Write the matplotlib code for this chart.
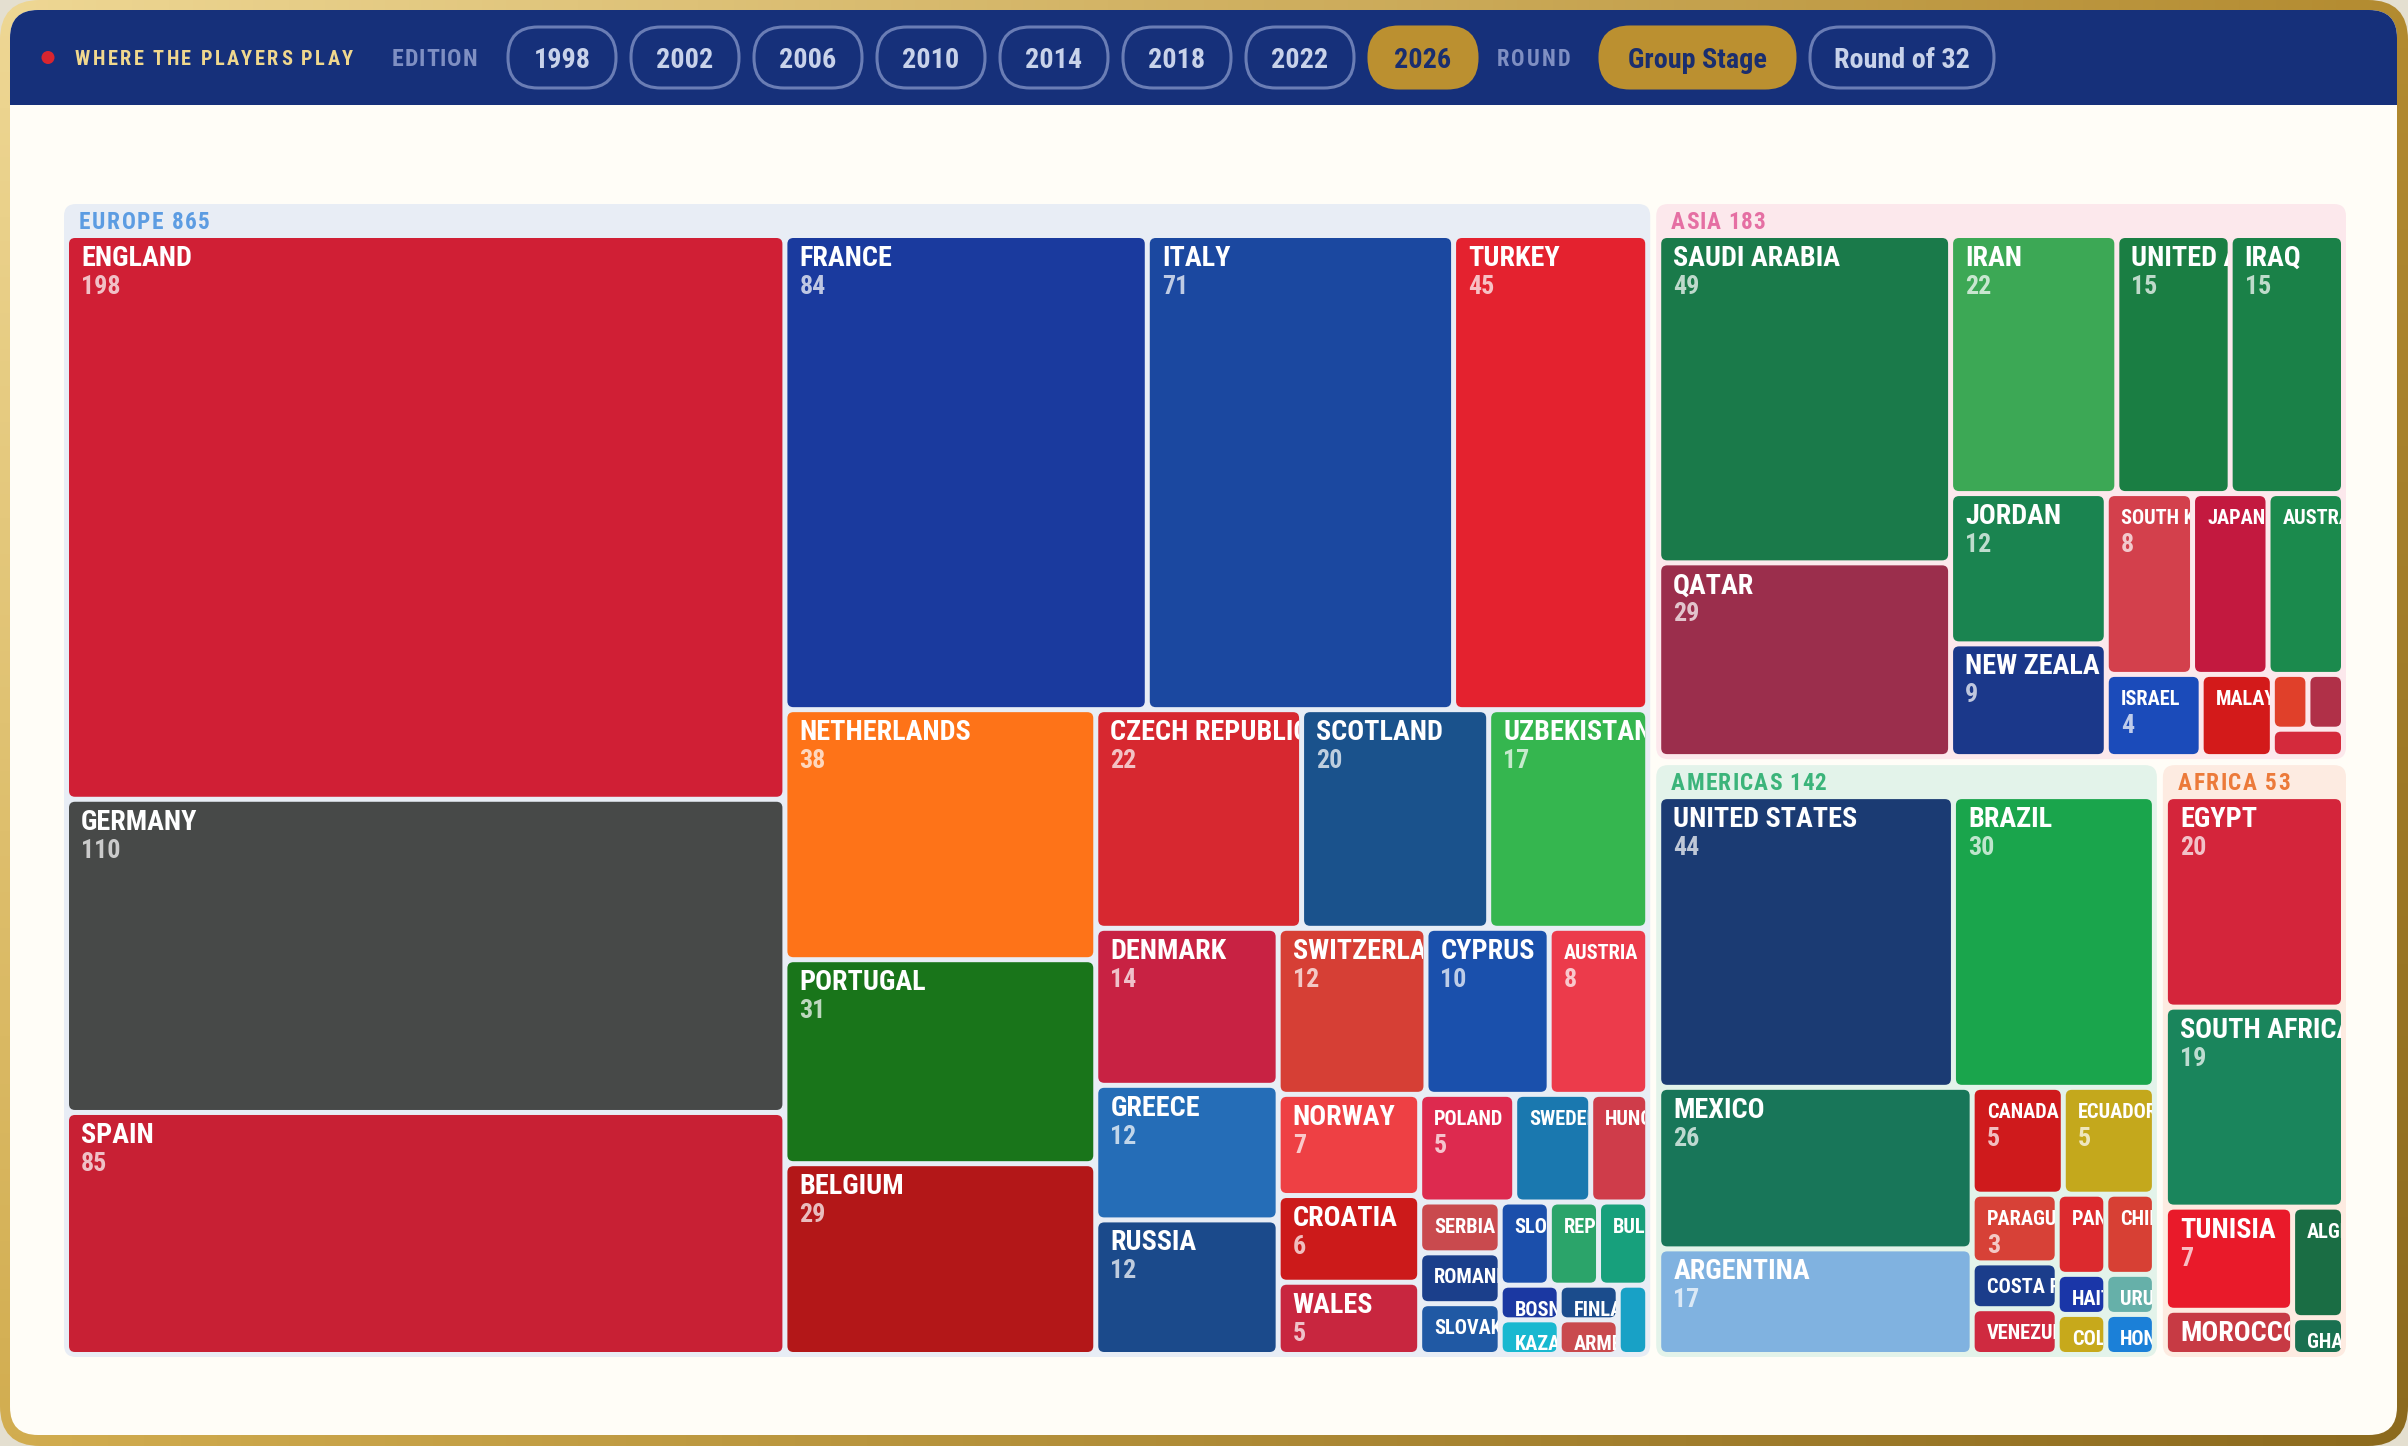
import numpy as np
import matplotlib
matplotlib.use("Agg")
import matplotlib.pyplot as plt
from matplotlib.patches import FancyBboxPatch, Rectangle, Circle
from matplotlib.font_manager import FontProperties, fontManager, weight_dict
from matplotlib.textpath import TextPath
from matplotlib.transforms import Bbox

W, H = 2408, 1446
PHI = (1 + 5 ** 0.5) / 2

# ---- data -------------------------------------------------------------
edition_years = ["1998", "2002", "2006", "2010", "2014", "2018", "2022", "2026"]
selected_year = "2026"
rounds = ["Group Stage", "Round of 32"]
selected_round = "Group Stage"

region_names = ["EUROPE", "ASIA", "AMERICAS", "AFRICA"]

europe_countries = ["ENGLAND", "GERMANY", "SPAIN", "FRANCE", "ITALY", "TURKEY", "NETHERLANDS",
                    "PORTUGAL", "BELGIUM", "CZECH REPUBLIC", "SCOTLAND", "UZBEKISTAN", "DENMARK",
                    "GREECE", "RUSSIA", "SWITZERLAND", "CYPRUS", "AUSTRIA", "NORWAY", "CROATIA",
                    "WALES", "POLAND", "SWEDEN", "HUNGARY", "SERBIA", "ROMANIA", "SLOVAKIA",
                    "SLOVENIA", "REPUBLIC OF IRELAND", "BULGARIA", "BOSNIA", "KAZAKHSTAN",
                    "FINLAND", "ARMENIA", "ICELAND"]
europe_players = [198, 110, 85, 84, 71, 45, 38, 31, 29, 22, 20, 17, 14, 12, 12, 12, 10, 8, 7, 6,
                  5, 5, 4, 3, 2, 2, 2, 2, 2, 2, 1, 1, 1, 1, 1]
europe_colors = ["#d01f35", "#474948", "#c82034", "#1a3a9e", "#1b48a0", "#e4222f", "#fe7318",
                 "#19751a", "#b31718", "#d72830", "#1a528c", "#35b64f", "#c82243", "#256db7",
                 "#1b4a8b", "#d63f35", "#1a50ac", "#ec3b4b", "#ee4044", "#cc1a1a", "#c8263f",
                 "#dd2a4f", "#1a78af", "#cf3c4a", "#c94a4e", "#1b3f8b", "#2059a4", "#1b4fab",
                 "#2ba46a", "#17a07c", "#1b38a2", "#19b8d0", "#1b4c8c", "#c94a4e", "#18a1c6"]

asia_countries = ["SAUDI ARABIA", "QATAR", "IRAN", "UNITED ARAB EMIRATES", "IRAQ", "JORDAN",
                  "NEW ZEALAND", "SOUTH KOREA", "JAPAN", "AUSTRALIA", "ISRAEL", "MALAYSIA",
                  "THAILAND", "CHINA", "INDONESIA"]
asia_players = [49, 29, 22, 15, 15, 12, 9, 8, 7, 7, 4, 3, 1, 1, 1]
asia_colors = ["#1a7a4a", "#9b2e4c", "#3ca855", "#1a7e43", "#1a8148", "#1a8450", "#1b388a",
               "#d3404c", "#c3193f", "#1b8a4d", "#1b4bba", "#d31a1a", "#e0402a", "#b03048",
               "#d42a3c"]

americas_countries = ["UNITED STATES", "BRAZIL", "MEXICO", "ARGENTINA", "CANADA", "ECUADOR",
                      "PARAGUAY", "COSTA RICA", "VENEZUELA", "PANAMA", "CHILE", "HAITI",
                      "COLOMBIA", "URUGUAY", "HONDURAS"]
americas_players = [44, 30, 26, 17, 5, 5, 3, 2, 2, 2, 2, 1, 1, 1, 1]
americas_colors = ["#1b3b73", "#1aa54c", "#187659", "#80b2e0", "#cf1a1c", "#c4a81c", "#d74137",
                   "#1b3d8b", "#cf2a40", "#dc2a2e", "#d74034", "#1a36a8", "#c7a91b", "#66b0a9",
                   "#1b80d8"]

africa_countries = ["EGYPT", "SOUTH AFRICA", "TUNISIA", "MOROCCO", "ALGERIA", "GHANA"]
africa_players = [20, 19, 7, 3, 3, 1]
africa_colors = ["#d4253b", "#1a855c", "#e91a2a", "#c73a44", "#1a6d44", "#1a7050"]

region_bg = ["#e8edf5", "#fce8ec", "#e3f3ea", "#fdebe1"]
region_label_color = ["#5c9ce2", "#e56fa3", "#3bb47a", "#ec7a3a"]
region_label_width = [131, 94, 155, 112]   # letter-spaced label widths in the reference


# ---- fonts: look for a bold condensed face, else Roboto bold ----------
def _w(f):
    return weight_dict.get(f.weight, 400) if isinstance(f.weight, str) else f.weight


bold_faces = [f for f in fontManager.ttflist if _w(f) >= 600 and "italic" not in f.style.lower()
              and "oblique" not in f.style.lower()]
font_file = None
for want in ["Roboto Condensed", "Noto Sans ExtraCondensed", "Noto Sans Condensed",
             "Open Sans Condensed", "Liberation Sans Narrow", "Noto Sans SemiCondensed"]:
    hits = [f for f in bold_faces if f.name.startswith(want) and _w(f) <= 750]
    if hits:
        font_file = sorted(hits, key=lambda f: abs(_w(f) - 700))[0].fname
        break
if font_file is None:
    cond = [f for f in bold_faces if f.stretch not in ("normal", 500)
            and f.name in ("DejaVu Sans", "Noto Sans", "Open Sans", "Roboto")]
    if cond:
        font_file = cond[0].fname


def fprops(size):
    if font_file:
        return FontProperties(fname=font_file, size=size)
    return FontProperties(family=["Roboto", "DejaVu Sans"], weight="bold", size=size)


_probe = TextPath((0, 0), "H", size=100, prop=fprops(100))
CAP = _probe.get_extents().height / 100.0


def pt_for_cap(cap_px):
    return cap_px / CAP * 72 / 100


def squarify(values, x0, y0, x1, y1, ratio=PHI):
    # port of d3.treemapSquarify, values sorted descending
    rects = [None] * len(values)
    total = float(sum(values))
    n = len(values)
    i0 = i1 = 0
    while i0 < n:
        dx, dy = x1 - x0, y1 - y0
        s = values[i1]
        i1 += 1
        vmin = vmax = s
        alpha = max(dy / dx, dx / dy) / (total * ratio)
        beta = s * s * alpha
        min_ratio = max(vmax / beta, beta / vmin)
        while i1 < n:
            v = values[i1]
            s += v
            vmin, vmax = min(vmin, v), max(vmax, v)
            beta = s * s * alpha
            r = max(vmax / beta, beta / vmin)
            if r > min_ratio:
                s -= v
                break
            min_ratio = r
            i1 += 1
        if dx < dy:
            yb = y0 + dy * s / total
            x = x0
            for j in range(i0, i1):
                xn = x + dx * values[j] / s
                rects[j] = (x, y0, xn, yb)
                x = xn
            y0 = yb
        else:
            xb = x0 + dx * s / total
            y = y0
            for j in range(i0, i1):
                yn = y + dy * values[j] / s
                rects[j] = (x0, y, xb, yn)
                y = yn
            x0 = xb
        total -= s
        i0 = i1
    return rects


fig = plt.figure(figsize=(W / 100, H / 100), dpi=100, facecolor="#e4dfd0")
ax = fig.add_axes([0, 0, 1, 1])
ax.set_xlim(0, W)
ax.set_ylim(H, 0)
ax.axis("off")
renderer = fig.canvas.get_renderer()


def text_width(s, fp):
    w, _, _ = renderer.get_text_width_height_descent(s, fp, ismath=False)
    return w


def spaced_text(x, y, s, cap, width, color, zorder=6):
    # letter-spaced label stretched to a given overall width; y = centre of the capitals
    fp = fprops(pt_for_cap(cap))
    base = y + cap / 2
    chars = [c for c in s if c != " "]
    n_sp = s.count(" ")
    ink = sum(text_width(c, fp) for c in chars) + n_sp * cap * 0.3
    gap = max((width - ink) / (len(s) - 1), 0.5)
    for ch in s:
        if ch == " ":
            x += cap * 0.3 + gap
            continue
        ax.text(x, base, ch, fontproperties=fp, color=color, va="baseline", ha="left",
                zorder=zorder)
        x += text_width(ch, fp) + gap
    return x


def fit(s, fp, maxw):
    out = s
    while len(out) > 1 and text_width(out, fp) > maxw:
        out = out[:-1]
    return out.rstrip()


# ---- frame ------------------------------------------------------------
tl, tr = np.array([0xee, 0xd7, 0x94]) / 255, np.array([0xb3, 0x8b, 0x30]) / 255
bl, br = np.array([0xd2, 0xad, 0x50]) / 255, np.array([0x8c, 0x6a, 0x1e]) / 255
u = np.linspace(0, 1, 200)[None, :, None]
v = np.linspace(0, 1, 120)[:, None, None]
grad = (1 - v) * ((1 - u) * tl + u * tr) + v * ((1 - u) * bl + u * br)
frame = FancyBboxPatch((0, 0), W, H, boxstyle="round,pad=0,rounding_size=40",
                       fc="none", ec="none")
ax.add_patch(frame)
img = ax.imshow(grad, extent=(0, W, H, 0), aspect="auto", zorder=0)
img.set_clip_path(frame)

panel = FancyBboxPatch((10, 10), W - 21, H - 21, boxstyle="round,pad=0,rounding_size=28",
                       fc="#fffdf7", ec="none", zorder=1)
ax.add_patch(panel)
header = Rectangle((10, 10), W - 21, 95, fc="#16307a", ec="none", zorder=2)
ax.add_patch(header)
header.set_clip_path(panel)

# ---- header -----------------------------------------------------------
hy = 57.5
ax.add_patch(Circle((48, hy), 6.5, fc="#d9252f", ec="none", zorder=3))
spaced_text(75, hy, "WHERE THE PLAYERS PLAY", 14.5, 278, "#f0d88e")
spaced_text(392, hy, "EDITION", 17, 85, "#7f8fc2")

pill_h = 61
pill_fp = fprops(pt_for_cap(20))


def pill(x, label, pw, on):
    ax.add_patch(FancyBboxPatch((x, hy - pill_h / 2), pw, pill_h,
                                boxstyle="round,pad=0,rounding_size=30",
                                fc="#bb9030" if on else "none",
                                ec="#bb9030" if on else "#6a7db5", lw=2.2, zorder=3))
    ax.text(x + pw / 2, hy + 10, label, fontproperties=pill_fp,
            color="#1a2e6e" if on else "#c8d2ea", ha="center", va="baseline", zorder=4)
    return x + pw + 15


x = 508
for yr in edition_years:
    x = pill(x, yr, 108, yr == selected_year)
spaced_text(1497, hy, "ROUND", 16, 73, "#7f8fc2")
x = 1600
for rd, pw in zip(rounds, [195, 184]):
    x = pill(x, rd, pw, rd == selected_round)

# ---- treemap ----------------------------------------------------------
regions = [
    (europe_countries, europe_players, europe_colors),
    (asia_countries, asia_players, asia_colors),
    (americas_countries, americas_players, americas_colors),
    (africa_countries, africa_players, africa_colors),
]
region_totals = [sum(r[1]) for r in regions]

PAD_GROUP = 3        # half of gap between regions
PAD_TOP, PAD_SIDE = 34, 5
PAD_LEAF = 2.5

name_fp_big = fprops(pt_for_cap(20))
name_fp_small = fprops(pt_for_cap(14.5))
num_fp = fprops(pt_for_cap(18.5))

group_rects = squarify(region_totals, 61, 201, 2349, 1360)
for gi, (gr, (names, vals, cols)) in enumerate(zip(group_rects, regions)):
    gx0, gy0, gx1, gy1 = gr[0] + PAD_GROUP, gr[1] + PAD_GROUP, gr[2] - PAD_GROUP, gr[3] - PAD_GROUP
    ax.add_patch(FancyBboxPatch((gx0, gy0), gx1 - gx0, gy1 - gy0,
                                boxstyle="round,pad=0,rounding_size=12",
                                fc=region_bg[gi], ec="none", zorder=3))
    spaced_text(gx0 + 15, gy0 + 17, f"{region_names[gi]} {region_totals[gi]}", 16.5,
                region_label_width[gi], region_label_color[gi])
    leaves = squarify(vals, gx0 + PAD_SIDE - PAD_LEAF, gy0 + PAD_TOP - PAD_LEAF,
                      gx1 - PAD_SIDE + PAD_LEAF, gy1 - PAD_SIDE + PAD_LEAF)
    for name, val, col, lr in zip(names, vals, cols, leaves):
        x0, y0, x1, y1 = lr[0] + PAD_LEAF, lr[1] + PAD_LEAF, lr[2] - PAD_LEAF, lr[3] - PAD_LEAF
        w, h = x1 - x0, y1 - y0
        tile = FancyBboxPatch((x0, y0), w, h, boxstyle="round,pad=0,rounding_size=6",
                              fc=col, ec="none", zorder=4)
        ax.add_patch(tile)
        # clip box in display pixels (axes fills the figure, y flipped)
        clip = Bbox.from_extents(x0, H - y1, x1, H - y0)
        if w >= 40 and h >= 25:
            fp = name_fp_big if w >= 100 else name_fp_small
            t = ax.text(x0 + 12, y0 + 28, fit(name, fp, w + 1), fontproperties=fp,
                        color="white", ha="left", va="baseline", zorder=5, clip_on=True)
            t.set_clip_box(clip)
            if w >= 78 and h >= 62:
                t2 = ax.text(x0 + 12, y0 + 56, str(val), fontproperties=num_fp,
                             color="white", alpha=0.72, ha="left", va="baseline",
                             zorder=5, clip_on=True)
                t2.set_clip_box(clip)

fig.savefig("out.png", dpi=100, facecolor=fig.get_facecolor())
